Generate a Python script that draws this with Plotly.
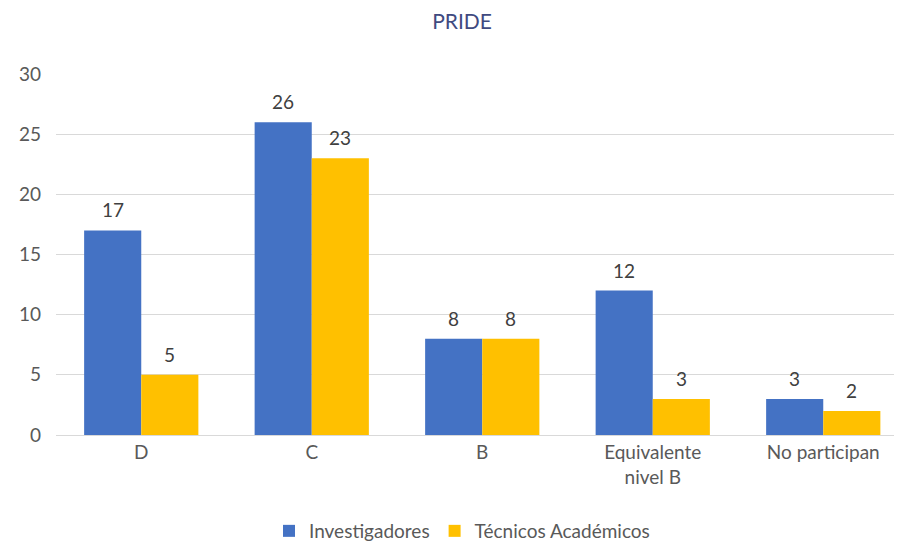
import plotly.graph_objects as go

categories = ["D", "C", "B", "Equivalente<br>nivel B", "No participan"]
investigadores = [17, 26, 8, 12, 3]
tecnicos = [5, 23, 8, 3, 2]
series_names = ["Investigadores", "Técnicos Académicos"]
y_ticks = [0, 5, 10, 15, 20, 25, 30]

# page body has an 8px margin, so figure coordinates are shifted by -8
OFF = 8
W, H = 902 - OFF, 544 - OFF
left, right_px = 56 - OFF, 895 - OFF
top, bottom = 74 - OFF, 435 - OFF
step = 170.5
n_vis = (right_px - left) / step
bargap = 0.33
bar_px = step * (1 - bargap) / 2

fig = go.Figure()
fig.add_trace(go.Bar(
    x=categories, y=investigadores, name=series_names[0],
    marker=dict(color="#4472C4", line=dict(width=0)),
))
fig.add_trace(go.Bar(
    x=categories, y=tecnicos, name=series_names[1],
    marker=dict(color="#FFC000", line=dict(width=0)),
))

annotations = []
for series, shift in ((investigadores, -bar_px / 2), (tecnicos, bar_px / 2)):
    for c, v in zip(categories, series):
        annotations.append(dict(
            x=c, y=v, xref="x", yref="y", text=str(v), showarrow=False,
            xanchor="center", yanchor="bottom", xshift=shift, yshift=7,
            font=dict(size=19, color="#404040"),
        ))

fig.update_layout(
    width=W, height=H,
    margin=dict(l=left, r=W - right_px, t=top, b=H - bottom, autoexpand=False),
    paper_bgcolor="white", plot_bgcolor="white",
    font=dict(family="Lato, Open Sans, sans-serif", size=18, color="#595959"),
    title=dict(text="PRIDE", x=(462 - OFF) / W, xanchor="center", y=1 - (22 - OFF) / H,
               yanchor="middle", font=dict(size=21, color="#3F4A80")),
    barmode="group", bargap=bargap, bargroupgap=0,
    showlegend=True,
    legend=dict(orientation="h", x=(462 - OFF - left) / (right_px - left), xanchor="center",
                y=-(531 - OFF - bottom) / (bottom - top),
                yanchor="middle", font=dict(size=19, color="#595959"),
                itemwidth=30, traceorder="normal"),
    annotations=annotations,
)
fig.update_xaxes(range=[-0.5, -0.5 + n_vis], showgrid=False, showline=True,
                 linecolor="#d9d9d9", linewidth=1, ticks="", tickfont=dict(size=19, color="#595959"))
fig.update_yaxes(range=[0, 30], tickvals=y_ticks, showgrid=True, gridcolor="#d9d9d9",
                 gridwidth=1, zeroline=False, showline=False, ticks="",
                 ticklabelstandoff=14, tickfont=dict(size=19, color="#595959"))

fig.write_html("out.html")
